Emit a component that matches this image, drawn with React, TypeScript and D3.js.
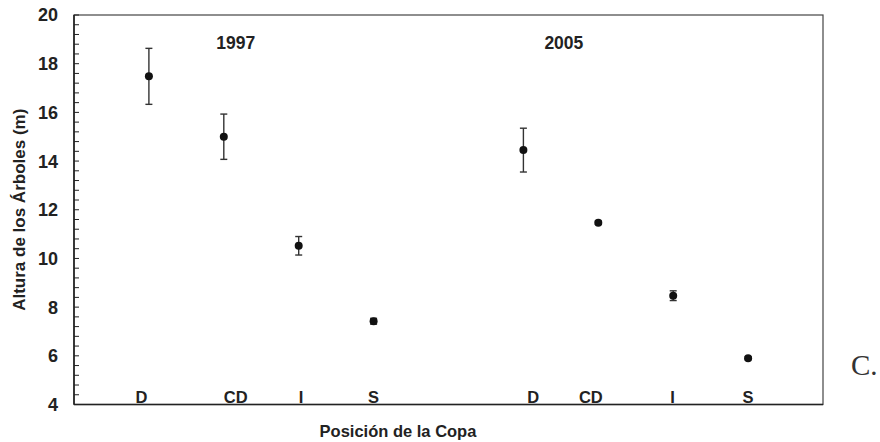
import React from "react";
import * as d3 from "d3";

const positions = ["D", "CD", "I", "S", "D", "CD", "I", "S"];
const slots = [1, 2, 3, 4, 6, 7, 8, 9];
const heights = [17.48, 15.0, 10.52, 7.42, 14.45, 11.47, 8.47, 5.9];
const errors = [1.15, 0.93, 0.38, 0.12, 0.9, 0.07, 0.2, 0.06];
const labelSlots = [0.9, 2.16, 3.03, 4.0, 6.13, 6.9, 7.99, 9.0];
const years = ["1997", "2005"];
const yearSlots = [2.16, 6.54];
const yTicks = [4, 6, 8, 10, 12, 14, 16, 18, 20];

const W = 880;
const H = 442;
const M = { left: 74, right: 823, top: 15, bottom: 404.5 };
const FONT = "'Liberation Sans', Arial, sans-serif";
const INK = "#222";

export default function App() {
  const x = d3.scaleLinear().domain([0, 10]).range([M.left, M.right]);
  const y = d3.scaleLinear().domain([4, 20]).range([M.bottom, M.top]);
  const minor = d3.range(4, 20.001, 0.4);

  return (
    <svg
      width={W}
      height={H}
      style={{ position: "absolute", left: 0, top: 0, background: "#fff" }}
      fontFamily={FONT}
    >
      {/* frame */}
      <rect
        x={M.left}
        y={M.top}
        width={M.right - M.left}
        height={M.bottom - M.top}
        fill="none"
        stroke="#444"
        strokeWidth={1.2}
      />
      <line x1={M.left} x2={M.left} y1={M.top} y2={M.bottom} stroke={INK} strokeWidth={1.6} />
      <line x1={M.left} x2={M.right} y1={M.bottom} y2={M.bottom} stroke={INK} strokeWidth={1.6} />

      {/* ticks */}
      {minor.map((v, i) => (
        <line key={"t" + i} x1={M.left} x2={M.left + 5} y1={y(v)} y2={y(v)} stroke={INK} strokeWidth={1} />
      ))}
      {yTicks.map((v) => (
        <text
          key={"l" + v}
          x={58}
          y={y(v)}
          dy="0.36em"
          textAnchor="end"
          fontSize={18}
          fontWeight="bold"
          fill={INK}
        >
          {v}
        </text>
      ))}

      {/* year labels */}
      {years.map((t, i) => (
        <text
          key={t}
          x={x(yearSlots[i])}
          y={49}
          textAnchor="middle"
          fontSize={17.5}
          fontWeight="bold"
          fill={INK}
        >
          {t}
        </text>
      ))}

      {/* category labels */}
      {positions.map((p, i) => (
        <text
          key={"c" + i}
          x={x(labelSlots[i])}
          y={403}
          textAnchor="middle"
          fontSize={16.5}
          fontWeight="bold"
          fill={INK}
        >
          {p}
        </text>
      ))}

      {/* error bars + points */}
      {heights.map((h, i) => {
        const cx = x(slots[i]);
        const top = y(h + errors[i]);
        const bot = y(h - errors[i]);
        return (
          <g key={"p" + i}>
            <line x1={cx} x2={cx} y1={top} y2={bot} stroke="#333" strokeWidth={1.4} />
            <line x1={cx - 3.5} x2={cx + 3.5} y1={top} y2={top} stroke="#333" strokeWidth={1.4} />
            <line x1={cx - 3.5} x2={cx + 3.5} y1={bot} y2={bot} stroke="#333" strokeWidth={1.4} />
            <circle cx={cx} cy={y(h)} r={4} fill="#111" />
          </g>
        );
      })}

      {/* axis titles */}
      <text
        transform={`translate(19,${(M.top + M.bottom) / 2}) rotate(-90)`}
        textAnchor="middle"
        dy="0.36em"
        fontSize={17}
        fontWeight="bold"
        fill={INK}
      >
        Altura de los Árboles (m)
      </text>
      <text x={398} y={437} textAnchor="middle" fontSize={16.5} fontWeight="bold" fill={INK}>
        Posición de la Copa
      </text>

      <text x={851} y={375} fontSize={29} fontFamily="'Liberation Serif', 'Times New Roman', serif" fill="#333">
        C.
      </text>
    </svg>
  );
}
